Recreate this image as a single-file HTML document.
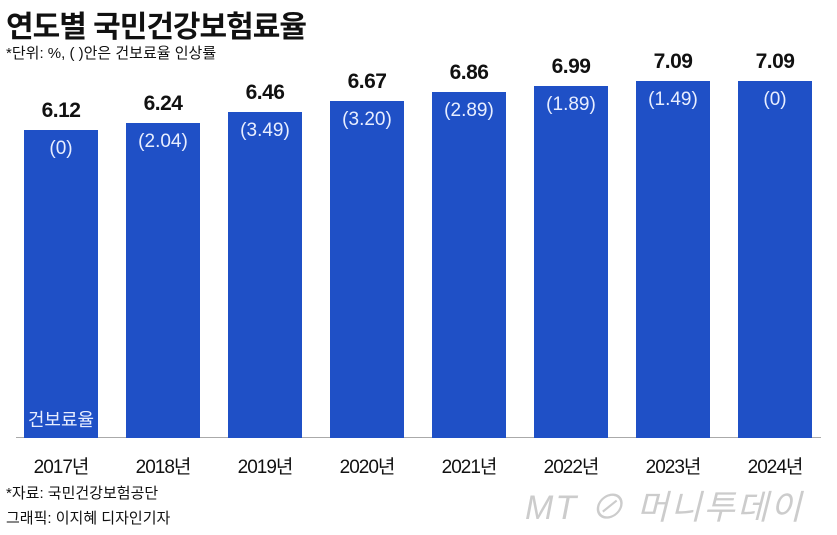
<!DOCTYPE html><html><head><meta charset="utf-8"><style>
body{margin:0;width:837px;height:535px;background:#fff;position:relative;overflow:hidden;font-family:"Liberation Sans","Noto Sans CJK KR",sans-serif}
.a{position:absolute}
.bar{position:absolute;background:#1f50c6;width:74px;bottom:97px}
.v{position:absolute;width:74px;text-align:center;font-weight:bold;font-size:21px;color:#111;letter-spacing:-0.5px}
.p{position:absolute;width:74px;text-align:center;font-size:19px;color:#e8eeff}
.y{position:absolute;width:100px;text-align:center;font-size:19px;color:#111;top:452px;letter-spacing:-1px}
</style></head><body>
<div class="a" style="left:6px;top:2px;font-size:30px;font-weight:bold;color:#111;letter-spacing:-1px">연도별 국민건강보험료율</div>
<div class="a" style="left:6px;top:42px;font-size:15px;color:#111">*단위: %, ( )안은 건보료율 인상률</div>
<div class="a" style="left:16px;top:437px;width:805px;height:1px;background:#aaa"></div>
<div id="c"></div>
<div class="a" style="left:24px;top:406px;font-size:18px;color:#e8eeff;width:74px;text-align:center">건보료율</div>
<div class="a" style="left:6px;top:482px;font-size:15px;color:#111">*자료: 국민건강보험공단</div>
<div class="a" style="left:6px;top:507px;font-size:15px;color:#111">그래픽: 이지혜 디자인기자</div>
<div class="a" style="left:525px;top:480px;font-size:34px;color:#ccc;font-style:italic;letter-spacing:2px">MT ⊘ 머니투데이</div>
<script>
var d=[["6.12","(0)",130],["6.24","(2.04)",123],["6.46","(3.49)",112],["6.67","(3.20)",101],["6.86","(2.89)",92],["6.99","(1.89)",86],["7.09","(1.49)",81],["7.09","(0)",81]];
var h="";d.forEach(function(e,i){var x=24+102*i;
h+='<div class="bar" style="left:'+x+'px;top:'+e[2]+'px"></div>';
h+='<div class="v" style="left:'+x+'px;top:'+(e[2]-31)+'px">'+e[0]+'</div>';
h+='<div class="p" style="left:'+x+'px;top:'+(e[2]+8)+'px">'+e[1]+'</div>';
h+='<div class="y" style="left:'+(x-13)+'px">'+(2017+i)+'년</div>';});
document.getElementById("c").innerHTML=h;
</script>
</body></html>
